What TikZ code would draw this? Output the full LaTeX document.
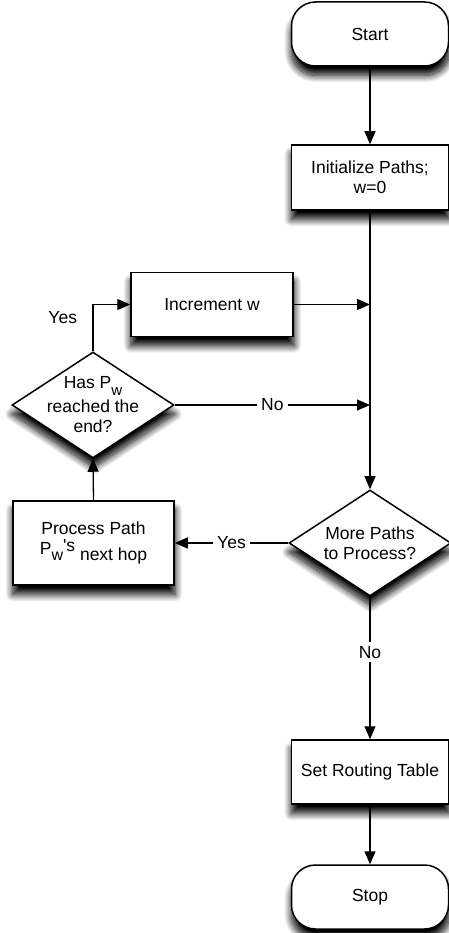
\documentclass[tikz,border=0pt]{standalone}
\usepackage{fontspec}
\setmainfont{Liberation Sans}
\usetikzlibrary{arrows.meta,shapes.geometric,shadows.blur}

% subscript pieces of the path labels
\newcommand{\lowbit}[1]{\raisebox{-7pt}{\fontsize{15}{15}\selectfont #1}}

\begin{document}
\begin{tikzpicture}[x=1pt,y=1pt,
  every node/.style={font=\fontsize{17.5}{20}\selectfont},
  softshadow/.style={blur shadow={shadow xshift=0.5pt,shadow yshift=-9pt,
    shadow scale=1.01,shadow blur radius=7pt,shadow blur steps=14,shadow opacity=100}},
  terminal/.style={draw, line width=1.5pt, rounded corners=24pt, fill=white,
    minimum width=157pt, minimum height=64pt, softshadow},
  process/.style={draw, line width=1.5pt, fill=white, align=center,
    minimum width=157pt, minimum height=64pt, softshadow},
  decision/.style={draw, diamond, line width=1.5pt, fill=white, inner sep=0pt,
    minimum width=162pt, minimum height=106pt, softshadow},
  flow/.style={line width=1.3pt, -{Triangle[length=13pt,width=11pt]}},
  lbl/.style={fill=white, inner sep=4pt}
]
\useasboundingbox (0,0) rectangle (448,-933);

% shapes of the flowchart
\node[terminal] (start) at (370,-34) {Start};
\node[process, minimum height=65pt] (init) at (370,-177.5) {Initialize Paths;\\w=0};
\node[process, minimum width=162pt] (incr) at (212,-304.5) {Increment w};
\node[decision, label={[align=center,name=hastext]center:Has P\lowbit{w}\\[4pt]reached the\\end?}]
  (has) at (93,-405) {};
\node[process, minimum width=161pt, minimum height=84pt] (proc) at (93.5,-543)
  {Process Path\\P\raisebox{-6pt}{\fontsize{16}{16}\selectfont w}\raisebox{3pt}{\textquotesingle s}\raisebox{-6pt}{ next hop}};
\node[decision, label={[align=center,name=moretext]center:More Paths\\to Process?}]
  (more) at (370,-543) {};
\node[process] (set) at (370,-772) {Set Routing Table};
\node[terminal] (stop) at (370,-897) {Stop};

% connectors
\draw[flow] (start) -- (init);
\draw[flow] (init) -- (more);
\draw[flow] (incr.east) -- (incr.east -| more.north);
\draw[flow] (has.east) -- node[lbl] (nohas) {No} (has.east -| more.north);
\draw[flow] (has.north) |- node[pos=0.36, left, xshift=-12pt] (yeshas) {Yes} (incr.west);
\draw[flow] (more.west) -- node[lbl] (yesmore) {Yes} (proc.east);
\draw[flow] (proc.north) -- (has.south);
\draw[flow] (more.south) -- node[lbl, pos=0.39] (nomore) {No} (set.north);
\draw[flow] (set) -- (stop);
\end{tikzpicture}
\end{document}
